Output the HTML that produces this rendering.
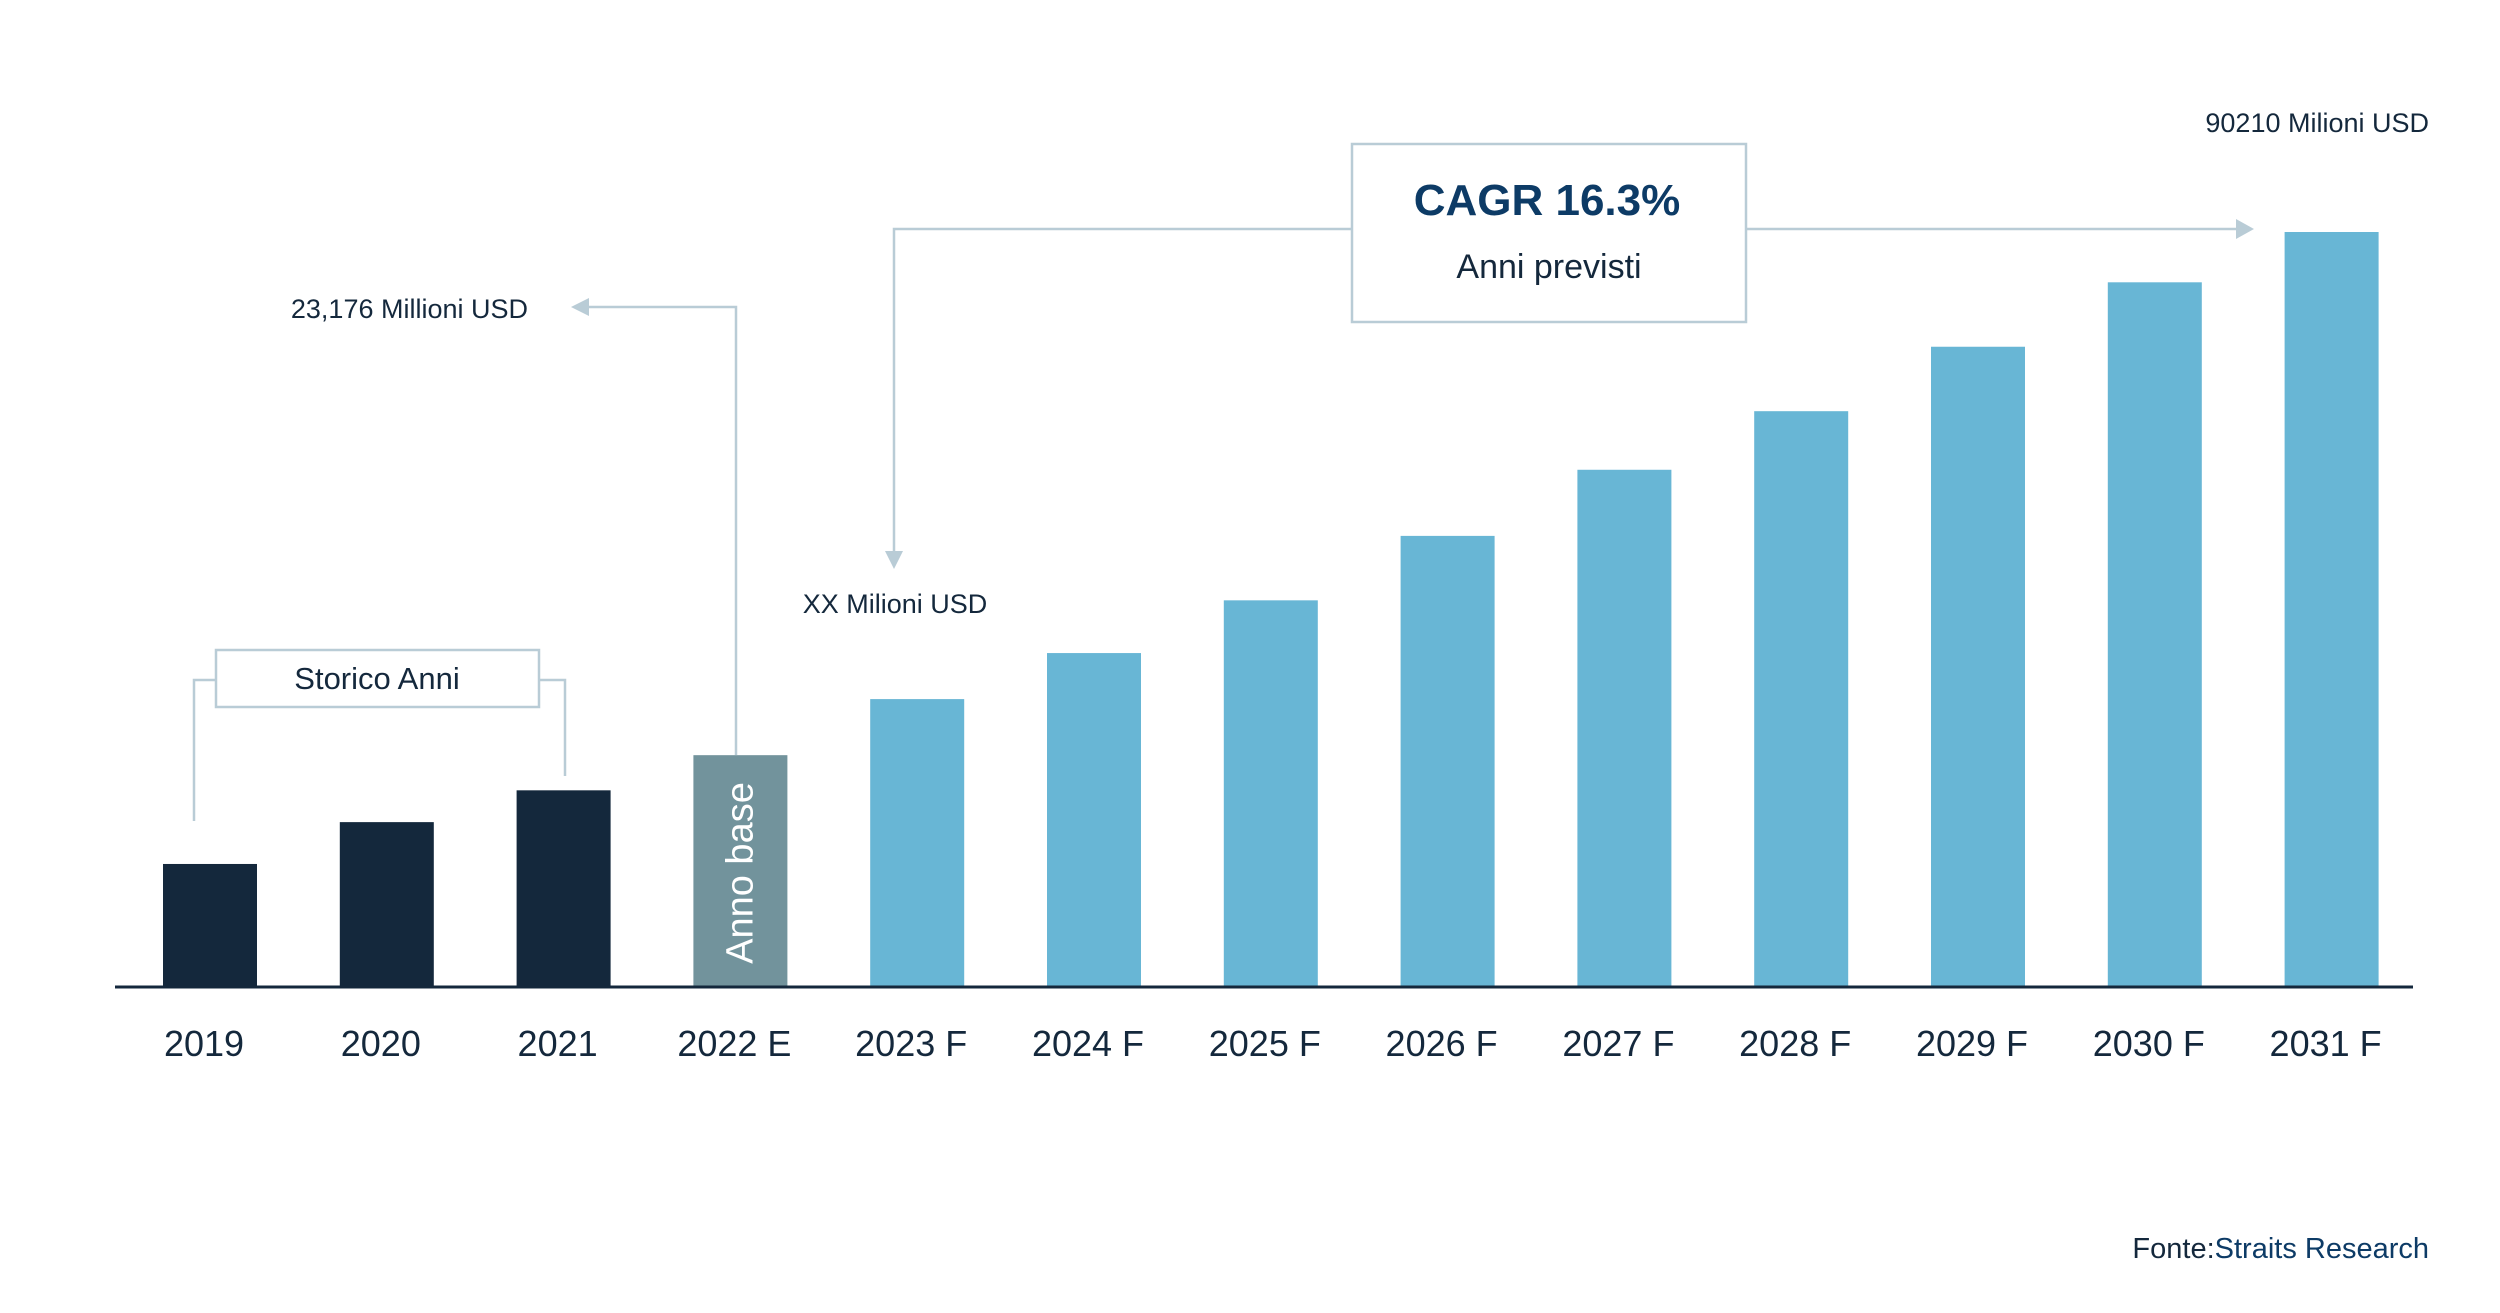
<!DOCTYPE html>
<html><head><meta charset="utf-8"><style>
body{margin:0;background:#fff;}
svg{display:block;font-family:"Liberation Sans",sans-serif;}
</style></head><body>
<svg id="chart" width="2500" height="1313" viewBox="0 0 2500 1313">
<g id="bars"></g>
<g id="xlabels"></g>
<line x1="115" y1="987" x2="2413" y2="987" stroke="#14283c" stroke-width="3"/>
<!-- Storico bracket -->
<polyline points="194,821 194,680 216,680" fill="none" stroke="#b9ccd6" stroke-width="2.5"/>
<polyline points="539,680 565,680 565,776" fill="none" stroke="#b9ccd6" stroke-width="2.5"/>
<rect x="216" y="650" width="323" height="57" fill="#fff" stroke="#b9ccd6" stroke-width="2.5"/>
<text x="377" y="689" text-anchor="middle" font-size="31" fill="#14283c">Storico Anni</text>
<!-- base year callout -->
<polyline points="736,755 736,307 585,307" fill="none" stroke="#b9ccd6" stroke-width="2.5"/>
<polygon points="571,307 589,298 589,316" fill="#b9ccd6"/>
<text x="528" y="318" text-anchor="end" font-size="27" fill="#14283c">23,176 Millioni USD</text>
<!-- CAGR -->
<polyline points="894,555 894,229 1352,229" fill="none" stroke="#b9ccd6" stroke-width="2.5"/>
<polygon points="894,569 885,551 903,551" fill="#b9ccd6"/>
<line x1="1746" y1="229" x2="2240" y2="229" stroke="#b9ccd6" stroke-width="2.5"/>
<polygon points="2254,229 2236,219 2236,239" fill="#b9ccd6"/>
<rect x="1352" y="144" width="394" height="178" fill="#fff" stroke="#b9ccd6" stroke-width="2.5"/>
<text x="1547" y="215" text-anchor="middle" font-size="44" font-weight="bold" fill="#0d3b66">CAGR 16.3%</text>
<text x="1549" y="278" text-anchor="middle" font-size="34" fill="#14283c">Anni previsti</text>
<text x="895" y="613" text-anchor="middle" font-size="27" fill="#14283c">XX Milioni USD</text>
<text x="2429" y="132" text-anchor="end" font-size="27" fill="#14283c">90210 Milioni USD</text>
<text x="2429" y="1258" text-anchor="end" font-size="29" fill="#0d3b66"><tspan fill="#14283c">Fonte:</tspan>Straits Research</text>
</svg>
<script>
const categories=["2019","2020","2021","2022 E","2023 F","2024 F","2025 F","2026 F","2027 F","2028 F","2029 F","2030 F","2031 F"];
const values=[14700,19700,23500,27700,34400,39900,46200,53900,61800,68800,76500,84200,90210];
const kinds=["hist","hist","hist","base","fc","fc","fc","fc","fc","fc","fc","fc","fc"];
const NS="http://www.w3.org/2000/svg";
const baseY=987, plotH=755, maxV=90210, x0=163, step=176.8, bw=94;
const colors={hist:"#14283c",base:"#72939c",fc:"#68b6d5"};
function xScale(i){return x0+i*step;}
function yScale(v){return baseY-v/maxV*plotH;}
const gb=document.getElementById("bars"), gl=document.getElementById("xlabels");
categories.forEach((c,i)=>{
  const r=document.createElementNS(NS,"rect");
  const y=yScale(values[i]);
  r.setAttribute("x",xScale(i));r.setAttribute("y",y);
  r.setAttribute("width",bw);r.setAttribute("height",baseY-y);
  r.setAttribute("fill",colors[kinds[i]]);
  
  
  gb.appendChild(r);
  const t=document.createElementNS(NS,"text");
  t.setAttribute("x",xScale(i)+bw/2-6);t.setAttribute("y",1056);
  t.setAttribute("text-anchor","middle");t.setAttribute("font-size","36");t.setAttribute("fill","#14283c");
  t.textContent=c;
  
  
  gl.appendChild(t);
  if(kinds[i]==="base"){
    const a=document.createElementNS(NS,"text");
    const cx=xScale(i)+bw/2+12;
    a.setAttribute("x",cx);a.setAttribute("y",873);
    a.setAttribute("transform","rotate(-90 "+cx+" 873)");
    a.setAttribute("text-anchor","middle");a.setAttribute("font-size","38");a.setAttribute("fill","#fff");
    a.textContent="Anno base";
    
    
    gb.appendChild(a);
  }
});
</script>
</body></html>
